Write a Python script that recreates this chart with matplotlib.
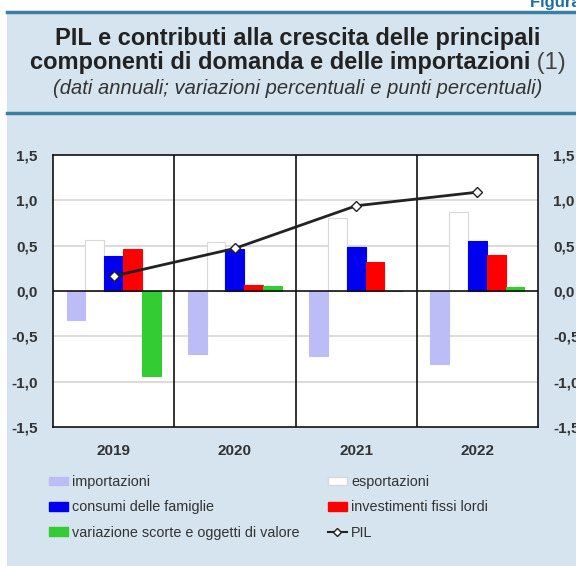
import matplotlib.pyplot as plt
from matplotlib.patches import Rectangle, Patch
from matplotlib.lines import Line2D
from matplotlib.text import Annotation

plt.rcParams['font.family'] = ['Liberation Sans', 'DejaVu Sans']

years = ["2019", "2020", "2021", "2022"]
importazioni = [-0.32, -0.70, -0.72, -0.81]
esportazioni = [0.56, 0.54, 0.80, 0.87]
consumi = [0.39, 0.46, 0.48, 0.55]
investimenti = [0.46, 0.07, 0.32, 0.40]
scorte = [-0.94, 0.05, 0.00, 0.04]
pil = [0.165, 0.47, 0.94, 1.09]
y_ticks = [-1.5, -1.0, -0.5, 0.0, 0.5, 1.0, 1.5]
y_labels = ["-1,5", "-1,0", "-0,5", "0,0", "0,5", "1,0", "1,5"]

bg = "#d5e4ef"
rule = "#3b7fa3"

fig = plt.figure(figsize=(5.76, 5.66), dpi=100)
fig.patch.set_facecolor("white")
fig.patches.append(Rectangle((7 / 576, 0), 1, 1 - 12 / 566, transform=fig.transFigure,
                             facecolor=bg, edgecolor="none", zorder=-5))
fig.add_artist(Line2D([7 / 576, 1], [1 - 12 / 566] * 2, color=rule, lw=2.5))
fig.add_artist(Line2D([7 / 576, 1], [1 - 113 / 566] * 2, color=rule, lw=2.5))
fig.text(530 / 576, 1 - 7 / 566, "Figura 4", ha="left", va="baseline",
         fontsize=12, fontweight="bold", color="#1f6e9c")

# titolo
fig.text(0.517, 1 - 38 / 566, "PIL e contributi alla crescita delle principali",
         ha="center", va="center", fontsize=17, fontweight="bold", color="#222222")
t2 = fig.text(30 / 576, 1 - 63 / 566, "componenti di domanda e delle importazioni",
              ha="left", va="center", fontsize=17, fontweight="bold", color="#222222")
fig.add_artist(Annotation(" (1)", xy=(1, 0.5), xycoords=t2, va="center", ha="left",
                          fontsize=17, color="#444444"))
fig.text(0.517, 1 - 88 / 566, "(dati annuali; variazioni percentuali e punti percentuali)",
         ha="center", va="center", fontsize=14.5, fontstyle="italic", color="#333333")

ax = fig.add_axes([53 / 576, 1 - 427 / 566, 485 / 576, 272 / 566])
ax.set_facecolor("white")
x = list(range(len(years)))
w = 0.155
series = [
    (importazioni, "#bcbcf7", "#bcbcf7"),
    (esportazioni, "white", "#d8d8d8"),
    (consumi, "#0000ee", "#0000ee"),
    (investimenti, "#ff0000", "#ff0000"),
    (scorte, "#33cc33", "#33cc33"),
]
for i, (vals, fc, ec) in enumerate(series):
    ax.bar([xi + (i - 2) * w for xi in x], vals, width=w, color=fc, edgecolor=ec,
           linewidth=0.8, zorder=3)

ax.plot(x, pil, color="#222222", lw=2, marker="D", markersize=5,
        markerfacecolor="white", markeredgecolor="#222222", markeredgewidth=1, zorder=5)

ax.set_xlim(-0.5, 3.5)
ax.set_ylim(-1.5, 1.5)
for yv in [-1.0, -0.5, 0.5, 1.0]:
    ax.axhline(yv, color="#d6d6d6", lw=1.2, zorder=1)
ax.axhline(0, color="#111111", lw=1.2, zorder=4)
for sep in [0.5, 1.5, 2.5]:
    ax.axvline(sep, color="#111111", lw=1.2, zorder=4)
for s in ax.spines.values():
    s.set_color("#111111")
    s.set_linewidth(1.2)

ax.set_xticks(x)
ax.set_xticklabels(years, fontsize=11, fontweight="bold", color="#333333")
ax.set_yticks(y_ticks)
ax.set_yticklabels(y_labels, fontsize=11, fontweight="bold", color="#333333")
ax.tick_params(axis="both", length=0)
ax.tick_params(axis="y", pad=11)
ax.tick_params(axis="x", pad=12)

ax2 = ax.twinx()
ax2.set_ylim(-1.5, 1.5)
ax2.set_yticks(y_ticks)
ax2.set_yticklabels(y_labels, fontsize=11, fontweight="bold", color="#333333")
ax2.tick_params(axis="y", length=0, pad=11)
for s in ax2.spines.values():
    s.set_visible(False)

handles = [
    Patch(facecolor="#bcbcf7", edgecolor="#bcbcf7", label="importazioni"),
    Patch(facecolor="#0000ee", edgecolor="#0000ee", label="consumi delle famiglie"),
    Patch(facecolor="#33cc33", edgecolor="#33cc33", label="variazione scorte e oggetti di valore"),
    Patch(facecolor="white", edgecolor="#d8d8d8", label="esportazioni"),
    Patch(facecolor="#ff0000", edgecolor="#ff0000", label="investimenti fissi lordi"),
    Line2D([], [], color="#222222", lw=1.5, marker="D", markersize=4,
           markerfacecolor="white", label="PIL"),
]
fig.legend(handles=handles, ncol=2, loc="upper left", bbox_to_anchor=(49 / 576, 1 - 475 / 566),
           frameon=False, fontsize=10.4, handlelength=1.3, handleheight=0.55, handletextpad=0.3,
           columnspacing=1.95, labelspacing=0.78, borderpad=0, borderaxespad=0,
           labelcolor="#333333")

fig.savefig("out.png", dpi=100, facecolor=fig.get_facecolor())
